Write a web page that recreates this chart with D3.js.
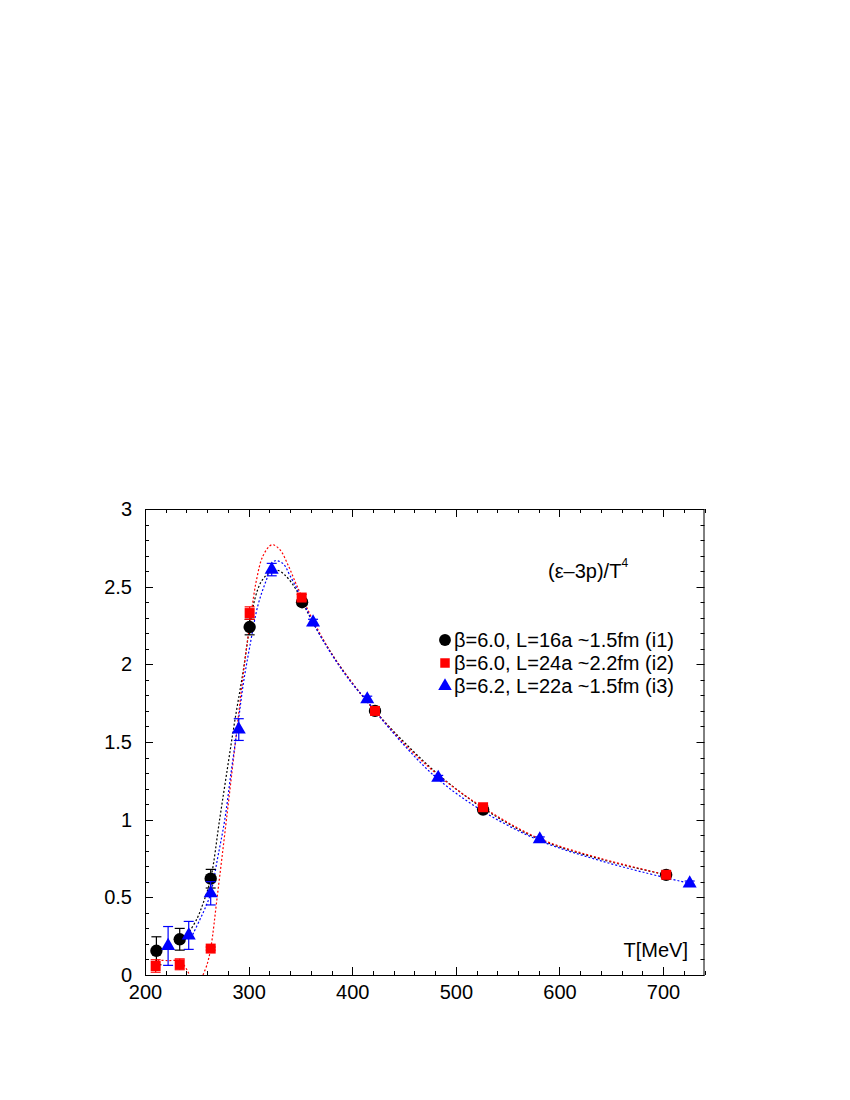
<!DOCTYPE html>
<html><head><meta charset="utf-8">
<script src="https://cdn.jsdelivr.net/npm/d3@7"></script>
<style>body{margin:0;background:#fff}svg{display:block}text{font-family:"Liberation Sans",Arial,sans-serif}</style>
</head><body>
<svg id="c" width="850" height="1100"></svg>
<script>
// ---- data ----
const xTicks = [200, 300, 400, 500, 600, 700];
const yTicks = [0, 0.5, 1, 1.5, 2, 2.5, 3];
const yTickLabels = ["0", "0.5", "1", "1.5", "2", "2.5", "3"];

const i1T = [211, 233.5, 263.4, 301, 351.6, 422, 526.3, 703];
const i1V = [0.156, 0.23, 0.62, 2.24, 2.40, 1.70, 1.065, 0.645];
const i1E = [0.09, 0.07, 0.06, 0.05, 0.02, 0.01, 0.01, 0.01];

const i2T = [210.3, 233.5, 263.4, 301, 351.2, 422, 526.3, 703];
const i2V = [0.058, 0.069, 0.17, 2.33, 2.43, 1.70, 1.08, 0.645];
const i2E = [0.04, 0.035, 0.01, 0.04, 0.02, 0.01, 0.01, 0.01];

const i3T = [222.3, 242.2, 263.4, 290.5, 322.3, 362.2, 414.5, 483, 581, 725.7];
const i3V = [0.187, 0.255, 0.526, 1.58, 2.61, 2.27, 1.775, 1.27, 0.874, 0.59];
const i3E = [0.125, 0.09, 0.075, 0.07, 0.04, 0.02, 0.02, 0.015, 0.015, 0.015];

// fit curves
const fit1T = [243, 250, 256, 263.4, 272, 280, 287, 294.6, 301, 306, 312, 320, 327, 335, 345, 352, 362, 380, 400, 422, 450, 485, 526, 580, 640, 703];
const fit1V = [0.28, 0.36, 0.46, 0.62, 1.0, 1.35, 1.65, 1.95, 2.24, 2.42, 2.53, 2.59, 2.607, 2.575, 2.49, 2.40, 2.27, 2.07, 1.88, 1.70, 1.50, 1.28, 1.075, 0.875, 0.745, 0.645];

const fit2T = [256, 260, 263.4, 270, 278.6, 289, 296, 302, 307.5, 314, 322.5, 330, 338, 345, 351, 362, 380, 400, 422, 450, 485, 526, 580, 640, 703];
const fit2V = [0.0, 0.07, 0.17, 0.52, 1.0, 1.6, 2.0, 2.3, 2.54, 2.70, 2.77, 2.74, 2.64, 2.53, 2.44, 2.285, 2.07, 1.88, 1.70, 1.49, 1.275, 1.08, 0.88, 0.75, 0.645];
const fit2lowT = [212, 222, 233.5, 238, 243];
const fit2lowV = [0.095, 0.093, 0.09, 0.06, 0.0];

const fit3T = [246, 252.8, 258, 263.4, 270, 277, 283, 289.8, 295, 301, 309, 317, 325, 333, 340, 350, 362, 380, 400, 415, 422, 450, 483, 526, 581, 640, 700, 726];
const fit3V = [0.26, 0.354, 0.43, 0.526, 0.75, 1.0, 1.3, 1.62, 1.88, 2.11, 2.38, 2.54, 2.665, 2.65, 2.57, 2.44, 2.27, 2.065, 1.875, 1.76, 1.70, 1.48, 1.26, 1.055, 0.865, 0.735, 0.63, 0.59];

const legendLabels = ["\u03b2=6.0, L=16a ~1.5fm (i1)", "\u03b2=6.0, L=24a ~2.2fm (i2)", "\u03b2=6.2, L=22a ~1.5fm (i3)"];

// ---- drawing ----
const FONT = '"Liberation Sans",Arial,sans-serif';
const svg = d3.select("#c");
const X0 = 145, X1 = 704.5, Y0 = 975, Y1 = 509;
const x = d3.scaleLinear().domain([200, 740]).range([X0, X1]);
const y = d3.scaleLinear().domain([0, 3]).range([Y0, Y1]);

// ticks (mirrored, inward)
const xMinor = d3.range(200, 741, 20);
const yMinor = d3.range(0, 3.001, 0.1);
const tk = svg.append("g").attr("stroke", "#000").attr("stroke-width", 1);
xMinor.forEach(v => {
  const major = Math.abs(v % 100) < 1e-6;
  const L = major ? 8 : 4;
  const px = Math.round(x(v)) + 0.5;
  tk.append("line").attr("x1", px).attr("x2", px).attr("y1", Y0).attr("y2", Y0 - L);
  tk.append("line").attr("x1", px).attr("x2", px).attr("y1", Y1).attr("y2", Y1 + L);
});
yMinor.forEach(v => {
  const r = Math.round(v * 10) % 5;
  const L = r === 0 ? 8 : 4;
  const py = Math.round(y(v)) + 0.5;
  tk.append("line").attr("x1", X0).attr("x2", X0 + L).attr("y1", py).attr("y2", py);
  tk.append("line").attr("x1", X1).attr("x2", X1 - L).attr("y1", py).attr("y2", py);
});

// tick labels via d3 axes (no tick lines)
const xAxis = d3.axisBottom(x).tickValues(xTicks).tickSize(0).tickPadding(9.5).tickFormat(d3.format("d"));
const gx = svg.append("g").attr("transform", `translate(0,${Y0})`).call(xAxis);
gx.select(".domain").remove();
gx.selectAll("text").attr("font-size", 20).attr("fill", "#000").style("font-family", FONT);
const yAxis = d3.axisLeft(y).tickValues(yTicks).tickSize(0).tickPadding(13).tickFormat((d, i) => yTickLabels[i]);
const gy = svg.append("g").attr("transform", `translate(${X0},0)`).call(yAxis);
gy.select(".domain").remove();
gy.selectAll("text").attr("font-size", 20).attr("fill", "#000").style("font-family", FONT);

// frame
svg.append("rect").attr("x", X0 + 0.5).attr("y", Y1 + 0.5).attr("width", X1 - X0 - 1).attr("height", Y0 - Y1)
  .attr("fill", "none").attr("stroke", "#000").attr("stroke-width", 1);

// clip
svg.append("clipPath").attr("id", "clip").append("rect").attr("x", X0).attr("y", Y1).attr("width", X1 - X0).attr("height", Y0 - Y1);

const line = d3.line().x(d => x(d[0])).y(d => y(d[1])).curve(d3.curveCatmullRom.alpha(0.5));
const zip = (a, b) => a.map((v, i) => [v, b[i]]);
const curves = svg.append("g").attr("clip-path", "url(#clip)").attr("fill", "none").attr("stroke-width", 1.2).attr("stroke-dasharray", "2,2");
curves.append("path").attr("d", line(zip(fit2lowT, fit2lowV))).attr("stroke", "#ff0000");
curves.append("path").attr("d", line(zip(fit1T, fit1V))).attr("stroke", "#000");
curves.append("path").attr("d", line(zip(fit2T, fit2V))).attr("stroke", "#ff0000");
curves.append("path").attr("d", line(zip(fit3T, fit3V))).attr("stroke", "#0000ff");

function series(T, V, E, color, symType, size, cap) {
  const g = svg.append("g");
  T.forEach((t, i) => {
    const cx = x(t), lo = y(V[i] - E[i]), hi = y(V[i] + E[i]);
    g.append("line").attr("x1", cx).attr("x2", cx).attr("y1", lo).attr("y2", hi).attr("stroke", color).attr("stroke-width", 1.2);
    g.append("line").attr("x1", cx - cap).attr("x2", cx + cap).attr("y1", lo).attr("y2", lo).attr("stroke", color).attr("stroke-width", 1.2);
    g.append("line").attr("x1", cx - cap).attr("x2", cx + cap).attr("y1", hi).attr("y2", hi).attr("stroke", color).attr("stroke-width", 1.2);
  });
  T.forEach((t, i) => {
    g.append("path").attr("d", d3.symbol().type(symType).size(size)())
      .attr("transform", `translate(${x(t)},${y(V[i])})`).attr("fill", color);
  });
}
series(i1T, i1V, i1E, "#000", d3.symbolCircle, 120, 5);
series(i2T, i2V, i2E, "#ff0000", d3.symbolSquare, 100, 5);
series(i3T, i3V, i3E, "#0000ff", d3.symbolTriangle, 85, 5);

// legend
const legColors = ["#000", "#ff0000", "#0000ff"];
const legSyms = [d3.symbolCircle, d3.symbolSquare, d3.symbolTriangle];
const legSizes = [110, 90, 80];
legendLabels.forEach((lab, i) => {
  const ly = 640 + i * 23;
  svg.append("path").attr("d", d3.symbol().type(legSyms[i]).size(legSizes[i])())
    .attr("transform", `translate(445,${ly})`).attr("fill", legColors[i]);
  svg.append("text").attr("x", 454).attr("y", ly + 7).attr("font-size", 20).text(lab);
});

// annotation
const t1 = svg.append("text").attr("x", 548).attr("y", 578).attr("font-size", 20);
t1.append("tspan").text("(\u03b5\u20133p)/T");
t1.append("tspan").attr("font-size", 12).attr("dy", -11).text("4");

svg.append("text").attr("x", 688).attr("y", 957).attr("text-anchor", "end").attr("font-size", 20).text("T[MeV]");
</script>
</body></html>
